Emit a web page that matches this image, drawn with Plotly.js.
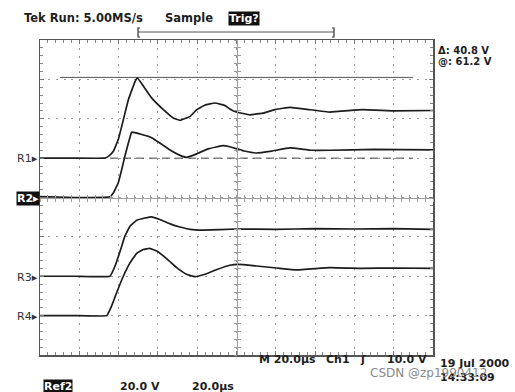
<!DOCTYPE html>
<html><head><meta charset="utf-8">
<script src="https://cdn.plot.ly/plotly-3.0.1.min.js"></script>
<style>body{margin:0;background:#fff}#c{width:515px;height:392px}</style>
</head><body><div id="c"></div>
<script>
// time axis in divisions (20.0 µs/div), values in divisions
const r1X = [0, 0.8, 1.65, 1.75, 1.87, 2.0, 2.08, 2.25, 2.42, 2.48, 2.63, 2.84, 3.14, 3.39, 3.56, 3.82, 3.99, 4.2, 4.45, 4.7, 4.83, 5.0, 5.34, 5.7, 6.0, 6.36, 6.8, 7.38, 8.2, 9.0, 10];
const r1Y = [1.0, 1.0, 1.0, 1.05, 1.18, 1.5, 1.81, 2.49, 2.95, 3.04, 2.83, 2.53, 2.23, 2.02, 1.96, 2.06, 2.23, 2.35, 2.40, 2.34, 2.25, 2.17, 2.1, 2.15, 2.24, 2.29, 2.24, 2.17, 2.23, 2.2, 2.21];
const r2X = [0, 0.9, 1.78, 1.87, 1.99, 2.08, 2.16, 2.25, 2.31, 2.33, 2.59, 2.84, 3.1, 3.35, 3.61, 3.73, 3.94, 4.3, 4.66, 4.83, 5.2, 5.51, 5.9, 6.36, 6.9, 7.38, 8.5, 10];
const r2Y = [0.02, 0.0, 0.02, 0.12, 0.37, 0.71, 1.05, 1.39, 1.6, 1.66, 1.6, 1.52, 1.35, 1.18, 1.05, 1.02, 1.09, 1.24, 1.32, 1.29, 1.18, 1.13, 1.18, 1.26, 1.2, 1.2, 1.22, 1.21];
const r3X = [0, 0.9, 1.78, 1.91, 2.04, 2.16, 2.29, 2.46, 2.67, 2.84, 3.05, 3.31, 3.56, 3.82, 4.15, 5.0, 6.0, 7.0, 8.0, 9.0, 10];
const r3Y = [-2.0, -2.0, -2.0, -1.74, -1.36, -0.98, -0.73, -0.58, -0.52, -0.49, -0.56, -0.67, -0.75, -0.81, -0.83, -0.80, -0.81, -0.79, -0.80, -0.79, -0.81];
const r4X = [0, 0.9, 1.7, 1.82, 1.95, 2.12, 2.29, 2.46, 2.63, 2.78, 2.97, 3.22, 3.48, 3.73, 3.94, 4.2, 4.5, 4.83, 5.05, 5.51, 6.02, 6.53, 7.38, 8.2, 9.0, 10];
const r4Y = [-3.0, -3.0, -3.0, -2.76, -2.42, -2.0, -1.66, -1.42, -1.32, -1.29, -1.36, -1.55, -1.78, -1.95, -2.01, -1.95, -1.83, -1.72, -1.70, -1.74, -1.79, -1.84, -1.78, -1.80, -1.79, -1.8];
const cursorX = [0.51, 9.49];
const cursorY = [3.05, 3.05];
const refLevelX = [1.78, 9.49];
const refLevelY = [1.0, 1.0];

const L = 40, R = 433, T = 40, B = 355;
const px = x => (x - L) / (R - L);
const py = y => (B - y) / (B - T);

const trc = (x, y) => ({x, y, type:'scatter', mode:'lines', line:{color:'#1c1c1c', width:1.7, shape:'spline', smoothing:0.25}, hoverinfo:'skip', showlegend:false});
const data = [
  {x:cursorX, y:cursorY, type:'scatter', mode:'lines', line:{color:'#555', width:1}, showlegend:false},
  {x:refLevelX, y:refLevelY, type:'scatter', mode:'lines', line:{color:'#444', width:1, dash:'8px,5px'}, showlegend:false},
  trc(r1X, r1Y), trc(r2X, r2Y), trc(r3X, r3Y), trc(r4X, r4Y),
  {x:[], y:[], xaxis:'x2', yaxis:'y2', type:'scatter', showlegend:false},
  {x:[], y:[], xaxis:'x3', yaxis:'y3', type:'scatter', showlegend:false}
];

const gridAx = {
  showgrid:true, gridcolor:'#9a9a9a', gridwidth:1, griddash:'2px,5.86px',
  zeroline:false, showline:true, linecolor:'#555', linewidth:1.5, mirror:'allticks',
  ticks:'inside', ticklen:4, tickcolor:'#777', showticklabels:false, fixedrange:true,
  minor:{dtick:0.2, ticks:'inside', ticklen:3, tickcolor:'#888', showgrid:false}
};
const centerX = (tk) => ({overlaying:'x', anchor:'free', position:0.5, range:[0,10], dtick:1,
  showgrid:false, zeroline:false, showline:true, linecolor:'#a0a0a0', linewidth:1.2, ticks:tk, ticklen:3, tickcolor:'#a0a0a0',
  minor:{dtick:0.2, ticks:tk, ticklen:3, tickcolor:'#a0a0a0'}, showticklabels:false});
const centerY = (tk) => ({overlaying:'y', anchor:'free', position:0.5, range:[-4,4], dtick:1,
  showgrid:false, zeroline:false, showline:true, linecolor:'#a0a0a0', linewidth:1.2, ticks:tk, ticklen:3, tickcolor:'#a0a0a0',
  minor:{dtick:0.2, ticks:tk, ticklen:3, tickcolor:'#a0a0a0'}, showticklabels:false});

const F = {family:'DejaVu Sans', size:11, color:'#1e1e1e', weight:'bold'};
const ann = (text, x, y, xanchor, extra) => Object.assign({text, x:px(x), y:py(y), xref:'paper', yref:'paper', xanchor, yanchor:'middle', showarrow:false, font:F}, extra||{});
const boxed = {bgcolor:'#111', font:Object.assign({}, F, {color:'#fff'}), borderpad:0};
const small = {font:Object.assign({}, F, {size:10})};
const lab = {font:{family:'DejaVu Sans', size:11, color:'#333'}};

const layout = {
  width:515, height:392, paper_bgcolor:'#fff', plot_bgcolor:'#fff',
  margin:{l:L, r:515-R, t:T, b:392-B},
  xaxis:Object.assign({range:[0,10], dtick:1}, gridAx),
  yaxis:Object.assign({range:[-4,4], dtick:1}, gridAx),
  xaxis2:centerX('inside'), yaxis2:centerY('inside'),
  xaxis3:centerX('outside'), yaxis3:centerY('outside'),
  shapes:[
    {type:'path', xref:'paper', yref:'paper', path:`M${px(140)},${py(28)} L${px(138)},${py(28)} L${px(138)},${py(37)} L${px(140)},${py(37)}`, line:{color:'#333', width:1.2}},
    {type:'line', xref:'paper', yref:'paper', x0:px(138), x1:px(334), y0:py(32), y1:py(32), line:{color:'#555', width:1}},
    {type:'path', xref:'paper', yref:'paper', path:`M${px(332)},${py(28)} L${px(334)},${py(28)} L${px(334)},${py(37)} L${px(332)},${py(37)}`, line:{color:'#333', width:1.2}}
  ],
  annotations:[
    ann('Tek Run: 5.00MS/s', 22, 18, 'left', {font:Object.assign({}, F, {size:11.5})}),
    ann('Sample', 163, 18, 'left', {font:Object.assign({}, F, {size:11.5})}),
    ann('Trig?', 228, 18, 'left', boxed),
    ann('Δ: 40.8 V', 436, 50, 'left', small),
    ann('@: 61.2 V', 436, 62, 'left', small),
    ann('R1▸', 40, 158, 'right', lab),
    ann('R2▸', 40, 198, 'right', boxed),
    ann('R3▸', 40, 277, 'right', lab),
    ann('R4▸', 40, 316, 'right', lab),
    ann('M 20.0µs', 257, 359, 'left'),
    ann('Ch1', 324, 359, 'left'),
    ann('ʃ', 358, 359, 'left'),
    ann('10.0 V', 429, 359, 'right'),
    ann('19 Jul 2000', 438, 364, 'left'),
    ann('14:33:09', 438, 377, 'left'),
    ann('CSDN @zp1990412', 368, 373, 'left', {font:{family:'DejaVu Sans', size:12, color:'#8a8a8a'}}),
    ann('Ref2', 43, 386, 'left', boxed),
    ann('20.0 V', 118, 386, 'left'),
    ann('20.0µs', 190, 386, 'left')
  ]
};
Plotly.newPlot('c', data, layout, {staticPlot:true, displayModeBar:false});
</script></body></html>
